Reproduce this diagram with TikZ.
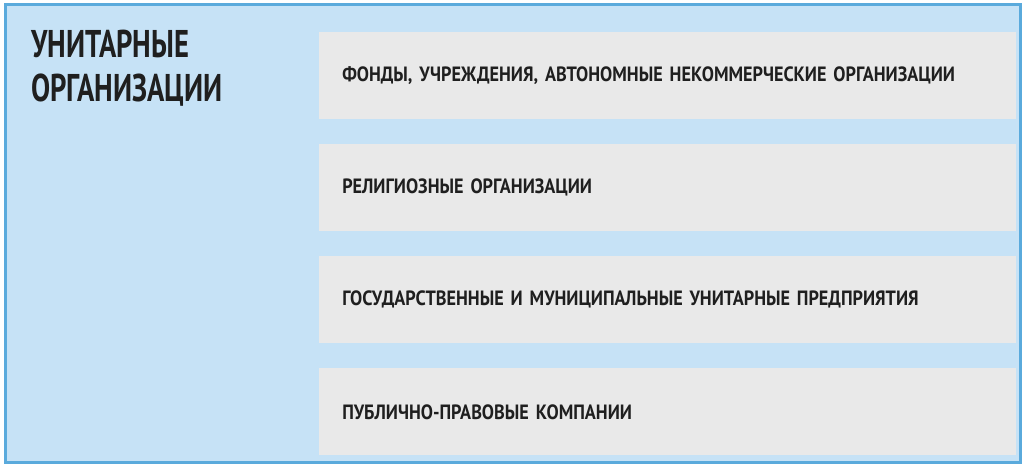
\documentclass[tikz,border=0pt]{standalone}
\usepackage{fontspec}
\setmainfont{PT Sans}[FakeStretch=0.88]
\newfontfamily\titlefont{PT Sans}[FakeStretch=0.74]
\usepackage{xcolor}
\usepackage{tikz}
\usetikzlibrary{positioning}

\definecolor{framefill}{HTML}{C6E2F6}
\definecolor{framedraw}{HTML}{5AAADC}
\definecolor{itemfill}{HTML}{E9E9E9}
\definecolor{itemtext}{HTML}{1F1F1F}

\tikzset{
	itembox/.style={anchor=north west, fill=itemfill, draw=none,
		minimum width=522.75pt, minimum height=65.25pt,
		inner xsep=17.25pt, inner ysep=0pt, text width=488.25pt, align=left,
		text=itemtext, font=\bfseries\fontsize{15.5pt}{18pt}\selectfont},
	titletext/.style={anchor=base west, align=left, inner sep=0pt,
		text=itemtext, font=\titlefont\bfseries\fontsize{29pt}{32.25pt}\selectfont}
}

\begin{document}
\begin{tikzpicture}[x=0.75pt, y=-0.75pt]
\useasboundingbox (0,0) rectangle (1024,467);

% The light blue frame round the whole list
\draw[draw=framedraw, fill=framefill, line width=2.25pt] (5,5) rectangle (1020,462);

% Heading in the upper left corner
\node[titletext] (title) at (31,101) {УНИТАРНЫЕ\\ОРГАНИЗАЦИИ};

% The four kinds, one grey bar each, 112px apart
\foreach \i/\txt in {0/{ФОНДЫ, УЧРЕЖДЕНИЯ, АВТОНОМНЫЕ НЕКОММЕРЧЕСКИЕ ОРГАНИЗАЦИИ},
		1/{РЕЛИГИОЗНЫЕ ОРГАНИЗАЦИИ},
		2/{ГОСУДАРСТВЕННЫЕ И МУНИЦИПАЛЬНЫЕ УНИТАРНЫЕ ПРЕДПРИЯТИЯ},
		3/{ПУБЛИЧНО-ПРАВОВЫЕ КОМПАНИИ}}
	\node[itembox] (item\i) at (319,32+112*\i) {\txt};
\end{tikzpicture}
\end{document}
